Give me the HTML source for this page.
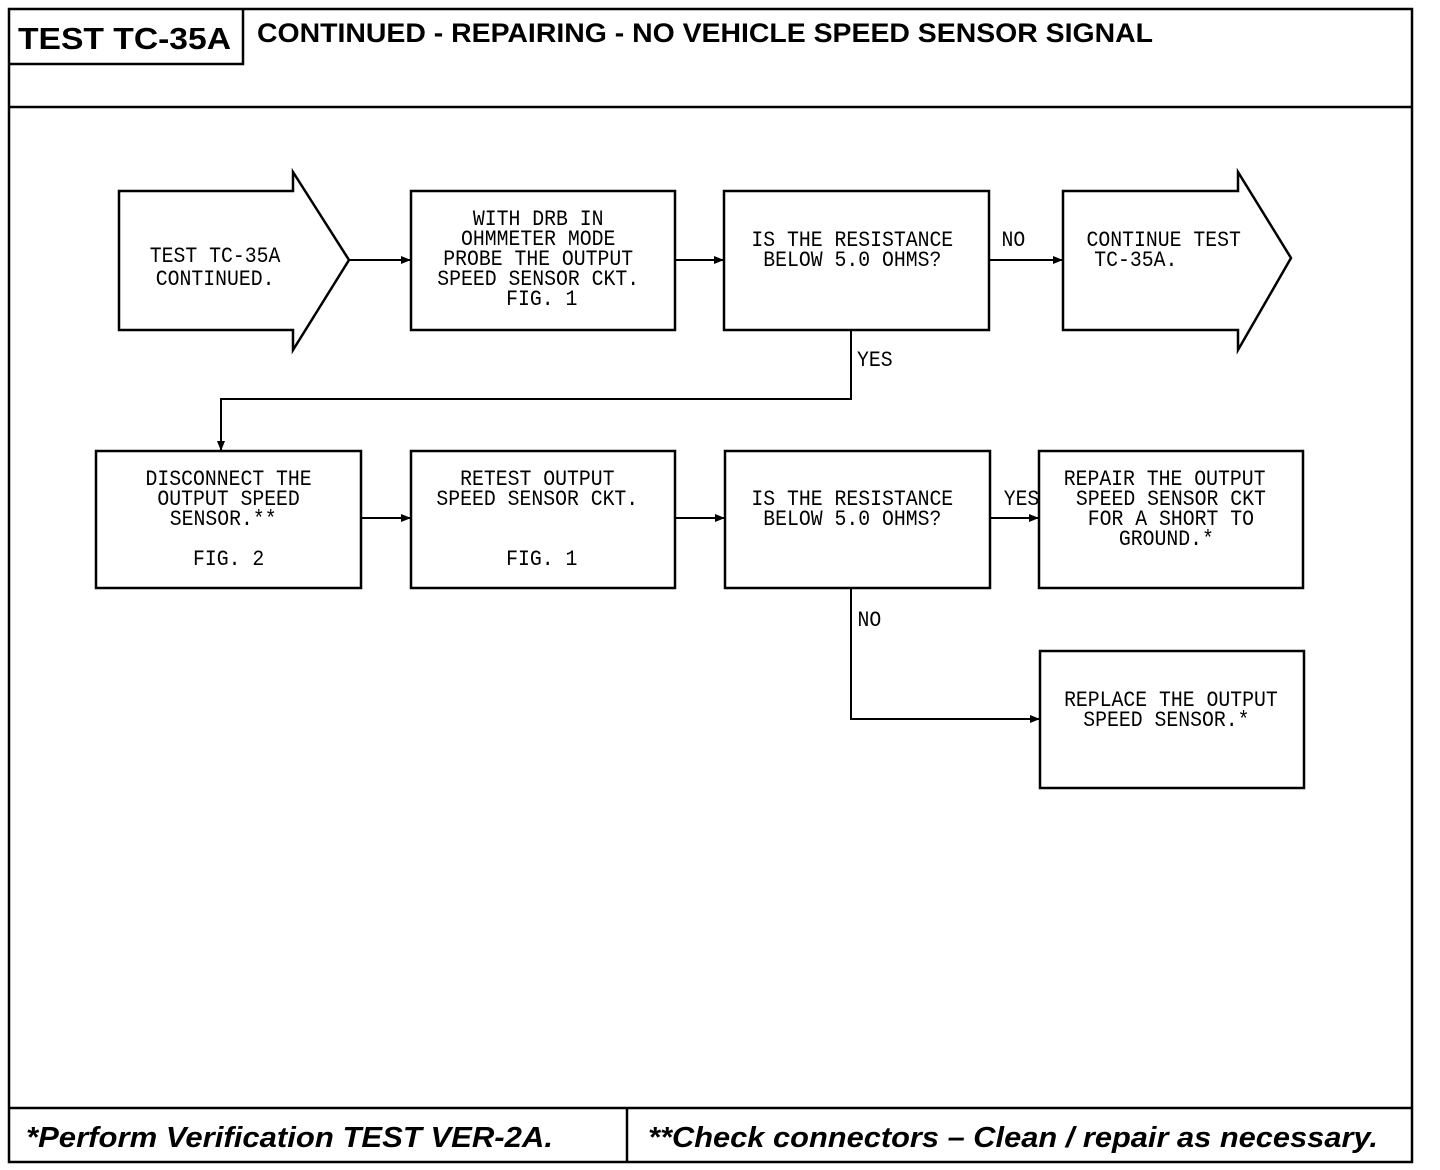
<!DOCTYPE html>
<html><head><meta charset="utf-8"><style>
html,body{margin:0;padding:0;background:#fff;}
svg{display:block;}
.t{font-family:"Liberation Mono",monospace;font-size:22px;fill:#000;}
.h{font-family:"Liberation Sans",Arial,sans-serif;font-weight:bold;fill:#000;}
</style></head><body>
<svg width="1440" height="1170" viewBox="0 0 1440 1170" xmlns="http://www.w3.org/2000/svg">
<defs><marker id="a" markerWidth="10" markerHeight="8" refX="9" refY="4" orient="auto" markerUnits="userSpaceOnUse"><path d="M0,0 L10,4 L0,8 z" fill="#000"/></marker></defs>
<g fill="none" stroke="#000" stroke-width="2.5">
<rect x="9" y="9" width="1403" height="1153"/>
<polyline points="9,64 243,64 243,9"/>
<line x1="9" y1="107" x2="1412" y2="107"/>
<line x1="9" y1="1108" x2="1412" y2="1108"/>
<line x1="627" y1="1108" x2="627" y2="1162"/>
<polygon points="119,191 293,191 293,172 349,260 293,350 293,330 119,330"/>
<rect x="411" y="191" width="264" height="139"/>
<rect x="724" y="191" width="265" height="139"/>
<polygon points="1063,191 1238,191 1238,172 1291,258 1238,350 1238,330 1063,330"/>
<rect x="96" y="451" width="265" height="137"/>
<rect x="411" y="451" width="264" height="137"/>
<rect x="725" y="451" width="265" height="137"/>
<rect x="1039" y="451" width="264" height="137"/>
<rect x="1040" y="651" width="264" height="137"/>
</g>
<g fill="none" stroke="#000" stroke-width="2">
<line x1="349" y1="260" x2="410" y2="260" marker-end="url(#a)"/>
<line x1="675" y1="260" x2="723" y2="260" marker-end="url(#a)"/>
<line x1="989" y1="260" x2="1062" y2="260" marker-end="url(#a)"/>
<polyline points="851,330 851,399 221,399 221,450" marker-end="url(#a)"/>
<line x1="361" y1="518" x2="410" y2="518" marker-end="url(#a)"/>
<line x1="675" y1="518" x2="724" y2="518" marker-end="url(#a)"/>
<line x1="990" y1="518" x2="1038" y2="518" marker-end="url(#a)"/>
<polyline points="851,588 851,719 1039,719" marker-end="url(#a)"/>
</g>
<text class="h" x="18" y="49" font-size="31" textLength="213" lengthAdjust="spacingAndGlyphs">TEST TC-35A</text>
<text class="h" x="257" y="42" font-size="27" textLength="896" lengthAdjust="spacingAndGlyphs">CONTINUED -  REPAIRING - NO VEHICLE SPEED SENSOR SIGNAL</text>
<text class="h" x="26" y="1147" font-size="29" font-style="italic" textLength="527" lengthAdjust="spacingAndGlyphs">*Perform  Verification TEST VER-2A.</text>
<text class="h" x="648" y="1147" font-size="29" font-style="italic" textLength="730" lengthAdjust="spacingAndGlyphs">**Check connectors – Clean / repair as necessary.</text>
<g class="t" text-anchor="middle" transform="scale(0.9,1)">
<text x="239" y="262">TEST TC-35A</text>
<text x="239" y="285">CONTINUED.</text>
<text x="598" y="225">WITH DRB IN</text>
<text x="598" y="245">OHMMETER MODE</text>
<text x="598" y="265">PROBE THE OUTPUT</text>
<text x="598" y="285">SPEED SENSOR CKT.</text>
<text x="602" y="305">FIG. 1</text>
<text x="947" y="246">IS THE RESISTANCE</text>
<text x="947" y="266">BELOW 5.0 OHMS?</text>
<text x="1293" y="246">CONTINUE TEST</text>
<text x="1262" y="266">TC-35A.</text>
<text x="254" y="485">DISCONNECT THE</text>
<text x="254" y="505">OUTPUT SPEED</text>
<text x="248" y="525">SENSOR.**</text>
<text x="254" y="565">FIG. 2</text>
<text x="597" y="485">RETEST OUTPUT</text>
<text x="597" y="505">SPEED SENSOR CKT.</text>
<text x="602" y="565">FIG. 1</text>
<text x="947" y="505">IS THE RESISTANCE</text>
<text x="947" y="525">BELOW 5.0 OHMS?</text>
<text x="1294" y="485">REPAIR THE OUTPUT</text>
<text x="1301" y="505">SPEED SENSOR CKT</text>
<text x="1301" y="525">FOR A SHORT TO</text>
<text x="1296" y="545">GROUND.*</text>
<text x="1301" y="706">REPLACE THE OUTPUT</text>
<text x="1296" y="726">SPEED SENSOR.*</text>
<text x="1126" y="246">NO</text>
<text x="972" y="366">YES</text>
<text x="1135" y="505">YES</text>
<text x="966" y="626">NO</text>
</g>
</svg>
</body></html>
